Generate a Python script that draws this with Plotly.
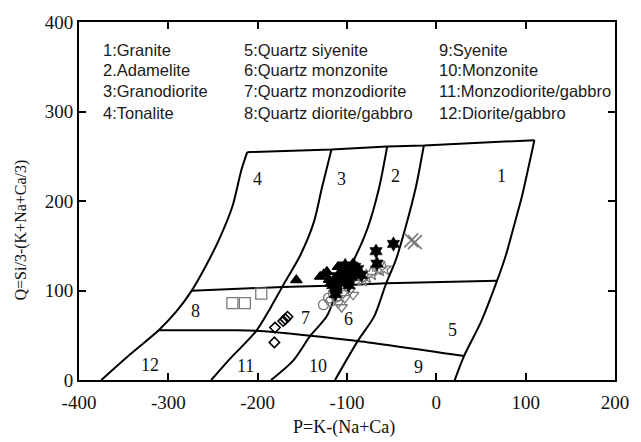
import plotly.graph_objects as go

# ---- Debon & Le Fort P-Q classification grid (P on x, Q on y) ----
top_edge_x = [-211.7, -117.4, -55, -14, 109.8]
top_edge_y = [254.6, 257.5, 261, 262, 268]

curve_a_x = [-211.7, -218.3, -228.2, -243, -257.6, -274, -290.7, -310.8, -342, -375]
curve_a_y = [254.6, 234.4, 194.2, 157.5, 128.2, 99.6, 76.9, 55.6, 29.3, 0]

curve_b_x = [-117.4, -128, -137.3, -152, -171.4, -186, -201.5, -232.6, -252]
curve_b_y = [257.5, 215, 175.8, 140, 106, 80, 55, 22, 0]

curve_c_x = [-55, -64, -76.7, -92, -109, -122.5, -141, -160, -185]
curve_c_y = [261, 215, 170.3, 135, 105, 71.4, 49.5, 22, 0]

curve_d_x = [-14, -23, -34.5, -45, -56.5, -69.4, -87.7, -113.4]
curve_d_y = [262, 215, 170.3, 135, 107, 71.4, 44, 0]

curve_e_x = [109.8, 103.2, 95.8, 88.4, 78, 68, 50, 31, 20.6]
curve_e_y = [268, 238, 205, 177.7, 140, 111, 65, 26.7, 0]

upper_div_x = [-274, -172, -110, -56, 68]
upper_div_y = [99.6, 104, 105.5, 108, 111]

lower_div_x = [-310.8, -228, -202, -141, -88, 31]
lower_div_y = [55.6, 55.6, 55, 49.5, 43.5, 26.7]

# field numbers
field_labels = ["1", "2", "3", "4", "5", "6", "7", "8", "9", "10", "11", "12"]
field_x = [73.4, -45.9, -106.4, -200, 17.6, -98.3, -146.8, -269.7, -20.2, -132.8, -213.6, -320.7]
field_y = [228, 227.5, 224.5, 224.5, 56, 67.8, 68.9, 77.3, 14, 15.8, 15.8, 16.5]

# key to the fields
key_col1 = ["1:Granite", "2.Adamelite", "3:Granodiorite", "4:Tonalite"]
key_col2 = ["5:Quartz siyenite", "6:Quartz monzonite", "7:Quartz monzodiorite", "8:Quartz diorite/gabbro"]
key_col3 = ["9:Syenite", "10:Monzonite", "11:Monzodiorite/gabbro", "12:Diorite/gabbro"]

# ---- samples ----
sq_x = [-228.3, -214.3, -196]
sq_y = [86, 86, 96.4]

dia_x = [-181.3, -180.6, -171.4, -166.6, -169]
dia_y = [42, 58.6, 65.9, 70.7, 68]

tri_x = [-156.7, -130, -122.5, -126, -110, -93.2, -115, -105, -100, -118, -112, -108, -120]
tri_y = [111.7, 115.4, 120.9, 118, 126.4, 130, 112, 118, 122, 108, 104, 112, 112]

hexs_x = [-48, -67.5, -66.4, -84, -91.4, -98, -104, -108, -112, -116, -100, -95, -88, -110, -106, -98, -102, -94, -113]
hexs_y = [152, 143.9, 130, 117.2, 126.4, 120, 114, 109, 101, 106, 110, 115, 124, 116, 122, 106, 128, 120, 96]

ostar_x = [-78.5, -73, -63.9, -58.4, -83]
ostar_y = [115.4, 119, 123.4, 124.5, 112]

circ_x = [-126.3, -120.7, -115.3, -118, -112]
circ_y = [84.2, 91.5, 97, 88, 93]

tdn_x = [-109.8, -102.4, -93.2, -106, -97, -104]
tdn_y = [86, 91.5, 95.2, 81.3, 100, 97]

cross_x = [-28, -24]
cross_y = [156, 154]

x_ticks = [-400, -300, -200, -100, 0, 100, 200]
x_tick_text = ["-400", "-300", "-200", "-100", "0", "100", "200"]
y_ticks = [0, 100, 200, 300, 400]
y_tick_text = ["0", "100", "200", "300", "400"]

SERIF = "Liberation Serif, Times New Roman, serif"
SANS = "Liberation Sans, Arial, sans-serif"
GRAY = "#7a7a7a"

fig = go.Figure()

for lx, ly, shape in [
    (top_edge_x, top_edge_y, "linear"),
    (curve_a_x, curve_a_y, "spline"),
    (curve_b_x, curve_b_y, "spline"),
    (curve_c_x, curve_c_y, "spline"),
    (curve_d_x, curve_d_y, "spline"),
    (curve_e_x, curve_e_y, "spline"),
    (upper_div_x, upper_div_y, "linear"),
    (lower_div_x, lower_div_y, "spline"),
]:
    fig.add_trace(go.Scatter(
        x=lx, y=ly, mode="lines",
        line=dict(color="black", width=2, shape=shape, smoothing=0.8),
        hoverinfo="skip", showlegend=False))

def add_markers(xs, ys, symbol, color, size, lw=1.3):
    fig.add_trace(go.Scatter(
        x=xs, y=ys, mode="markers", showlegend=False,
        marker=dict(symbol=symbol, size=size, color=color,
                    line=dict(color=color, width=lw))))

add_markers(sq_x, sq_y, "square-open", GRAY, 11)
add_markers(dia_x, dia_y, "diamond-open", "black", 8, 1.6)
add_markers(circ_x, circ_y, "circle-open", GRAY, 10)
add_markers(tdn_x, tdn_y, "triangle-down-open", GRAY, 10)
add_markers(ostar_x, ostar_y, "star-open", GRAY, 11)
add_markers(cross_x, cross_y, "x-thin-open", GRAY, 14, 1.6)
add_markers(tri_x, tri_y, "triangle-up", "black", 10)
add_markers(hexs_x, hexs_y, "hexagram", "black", 11, 0.5)

annotations = []
for t, x, y in zip(field_labels, field_x, field_y):
    annotations.append(dict(x=x, y=y, xref="x", yref="y", text=t, showarrow=False,
                            font=dict(family=SERIF, size=18, color="#111")))

key_rows_y = [369, 346.5, 322.5, 298]
for col, cx in [(key_col1, -375), (key_col2, -217.5), (key_col3, 1)]:
    for t, y in zip(col, key_rows_y):
        annotations.append(dict(x=cx, y=y, xref="x", yref="y", text=t, showarrow=False,
                                xanchor="left", yanchor="middle",
                                font=dict(family=SANS, size=16.5, color="#1a1a1a")))

annotations.append(dict(x=-103, y=-0.132, xref="x", yref="paper", text="P=K-(Na+Ca)",
                        showarrow=False, yanchor="middle",
                        font=dict(family=SERIF, size=18, color="#111")))
annotations.append(dict(x=-0.108, y=0.418, xref="paper", yref="paper",
                        text="Q=Si/3-(K+Na+Ca/3)", textangle=-90, showarrow=False,
                        xanchor="center", yanchor="middle",
                        font=dict(family=SERIF, size=16, color="#111")))

axis_common = dict(showgrid=False, zeroline=False, showline=True, linecolor="black",
                   linewidth=2, ticks="inside", ticklen=7, tickwidth=2, tickcolor="black",
                   mirror="ticks", tickfont=dict(family=SERIF, size=19, color="#111"))

fig.update_layout(
    width=641, height=442,
    margin=dict(l=79, r=17, t=16, b=62),
    paper_bgcolor="white", plot_bgcolor="white",
    xaxis=dict(range=[-400, 200], tickvals=x_ticks, ticktext=x_tick_text,
               ticklabelstandoff=4, **axis_common),
    yaxis=dict(range=[0, 400], tickvals=y_ticks, ticktext=y_tick_text, **axis_common),
    annotations=annotations,
)

fig.write_html("out.html")
